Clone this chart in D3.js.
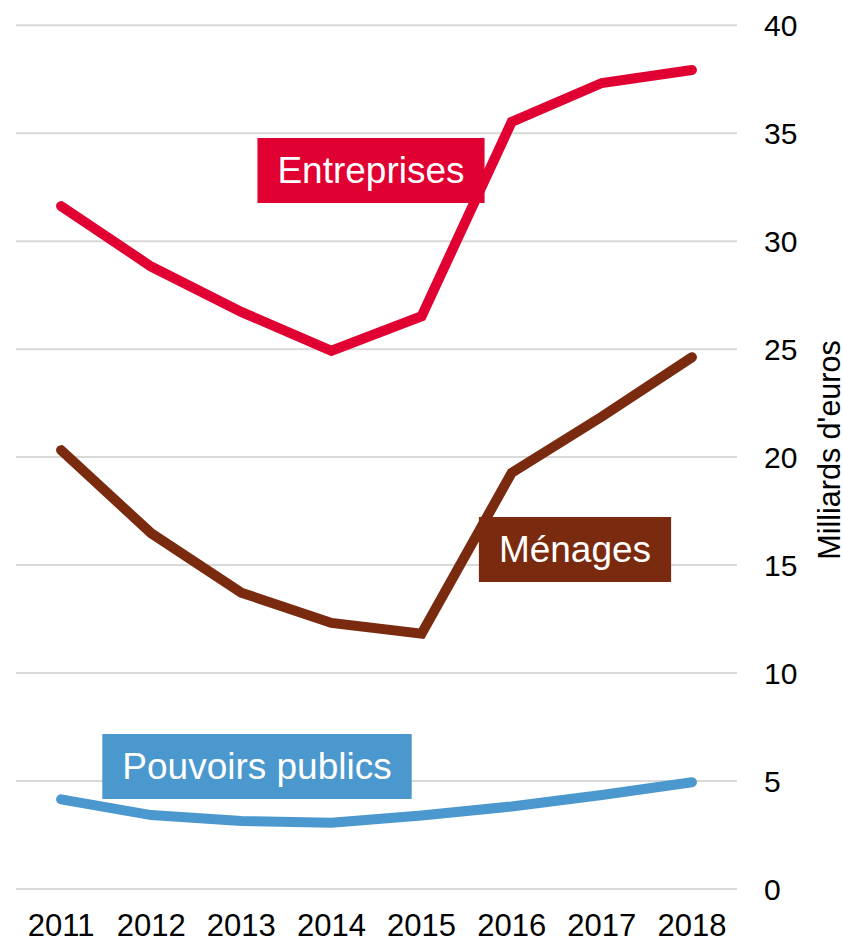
<!DOCTYPE html>
<html>
<head>
<meta charset="utf-8">
<script src="https://cdn.jsdelivr.net/npm/d3@7"></script>
<style>
  html, body { margin: 0; padding: 0; background: #ffffff; }
  svg { display: block; font-family: "Liberation Sans", Arial, sans-serif; }
</style>
</head>
<body>
<svg id="chart" width="843" height="940"></svg>
<script>
// Years on the horizontal axis
const years = ["2011", "2012", "2013", "2014", "2015", "2016", "2017", "2018"];

// Amounts in billions of euros per sector
const entreprises = [31.6, 28.8, 26.7, 24.9, 26.5, 35.5, 37.3, 37.9];
const menages = [20.3, 16.45, 13.7, 12.3, 11.8, 19.25, 21.85, 24.6];
const pouvoirsPublics = [4.13, 3.4, 3.13, 3.05, 3.38, 3.8, 4.33, 4.92];

// Vertical axis ticks
const yTicks = [0, 5, 10, 15, 20, 25, 30, 35, 40];

const series = [
  { name: "Entreprises", values: entreprises, color: "#E10032", label: { cx: 371, cy: 170.5 } },
  { name: "Ménages", values: menages, color: "#7A2A0E", label: { cx: 575, cy: 549.5 } },
  { name: "Pouvoirs publics", values: pouvoirsPublics, color: "#4A98CE", label: { cx: 257, cy: 766.5 } }
];

const svg = d3.select("#chart");

const x = d3.scaleBand().domain(years).range([16, 737]).paddingInner(0).paddingOuter(0);
const y = d3.scaleLinear().domain([0, 40]).range([888.5, 24.7]);
const xc = d => x(d) + x.bandwidth() / 2;

// Horizontal gridlines and right-hand tick labels
const yAxis = d3.axisRight(y)
  .tickValues(yTicks)
  .tickSizeInner(-(737 - 16))
  .tickSizeOuter(0)
  .tickPadding(27)
  .tickFormat(d3.format("d"));

const gy = svg.append("g")
  .attr("transform", "translate(737,0)")
  .call(yAxis);
gy.select(".domain").remove();
gy.selectAll(".tick line").attr("stroke", "#d9d9d9").attr("stroke-width", 2);
gy.selectAll(".tick text")
  .attr("font-size", 30)
  .attr("fill", "#000")
  .attr("dy", "0.35em")
  .style("font-family", "'Liberation Sans', Arial, sans-serif");

// Year labels along the bottom
const xAxis = d3.axisBottom(x).tickSize(0).tickPadding(26);
const gx = svg.append("g")
  .attr("transform", "translate(0,888)")
  .call(xAxis);
gx.select(".domain").remove();
gx.selectAll(".tick text")
  .attr("font-size", 31)
  .attr("fill", "#000")
  .style("font-family", "'Liberation Sans', Arial, sans-serif");

// Axis title
svg.append("text")
  .attr("transform", "translate(840,450) rotate(-90)")
  .attr("text-anchor", "middle")
  .attr("font-size", 30.5)
  .attr("fill", "#000")
  .text("Milliards d'euros");

// Series lines
const line = d3.line()
  .x((d, i) => xc(years[i]))
  .y(d => y(d));

svg.append("g")
  .selectAll("path")
  .data(series)
  .join("path")
  .attr("d", s => line(s.values))
  .attr("fill", "none")
  .attr("stroke", s => s.color)
  .attr("stroke-width", 10)
  .attr("stroke-linecap", "round")
  .attr("stroke-linejoin", "miter");

// Series name tags
const tags = svg.append("g")
  .selectAll("g")
  .data(series)
  .join("g")
  .attr("transform", s => `translate(${s.label.cx},${s.label.cy})`);

tags.append("rect").attr("fill", s => s.color);

tags.append("text")
  .attr("text-anchor", "middle")
  .attr("dy", "0.35em")
  .attr("font-size", 37)
  .attr("fill", "#fff")
  .text(s => s.name);

tags.each(function () {
  const g = d3.select(this);
  const w = g.select("text").node().getComputedTextLength() + 40;
  const h = 65;
  g.select("rect")
    .attr("x", -w / 2)
    .attr("y", -h / 2)
    .attr("width", w)
    .attr("height", h);
});
</script>
</body>
</html>
